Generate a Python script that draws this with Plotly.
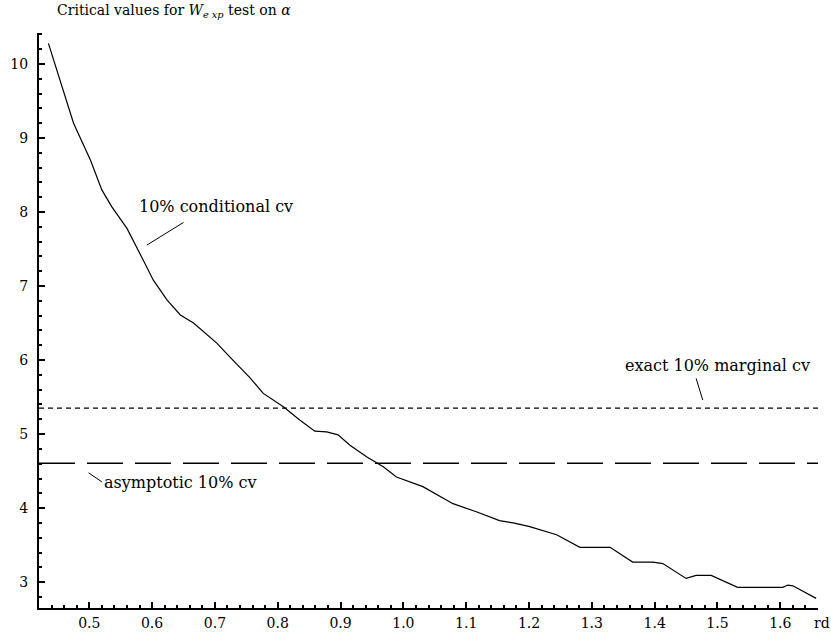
import plotly.graph_objects as go

# Conditional 10% critical value of the W_exp test as a function of rd
rd = [0.435, 0.454, 0.475, 0.502, 0.520, 0.536, 0.560, 0.586, 0.602, 0.624,
      0.645, 0.666, 0.682, 0.703, 0.724, 0.756, 0.777, 0.793, 0.809, 0.835,
      0.859, 0.878, 0.896, 0.915, 0.942, 0.968, 0.989, 1.031, 1.079, 1.116,
      1.153, 1.175, 1.201, 1.244, 1.281, 1.329, 1.365, 1.397, 1.413, 1.450,
      1.466, 1.490, 1.532, 1.604, 1.612, 1.620, 1.657]
cond_cv = [10.28, 9.78, 9.20, 8.70, 8.30, 8.07, 7.78, 7.35, 7.08, 6.81,
           6.61, 6.50, 6.38, 6.23, 6.04, 5.76, 5.55, 5.46, 5.37, 5.19,
           5.04, 5.03, 4.99, 4.85, 4.69, 4.56, 4.42, 4.29, 4.06, 3.95,
           3.83, 3.80, 3.75, 3.64, 3.47, 3.47, 3.27, 3.27, 3.25, 3.05,
           3.09, 3.09, 2.93, 2.93, 2.96, 2.95, 2.78]

# Horizontal reference levels
exact_marginal_cv = 5.35
asymptotic_cv = 4.605

x_range = [0.42, 1.66]
y_range = [2.65, 10.42]

x_ticks = [0.5, 0.6, 0.7, 0.8, 0.9, 1.0, 1.1, 1.2, 1.3, 1.4, 1.5, 1.6]
y_ticks = [3, 4, 5, 6, 7, 8, 9, 10]

FONT = "DejaVu Serif"

fig = go.Figure()

fig.add_trace(go.Scatter(
    x=x_range, y=[exact_marginal_cv, exact_marginal_cv], mode="lines",
    line=dict(color="black", width=1.3, dash="5px,4px"), hoverinfo="skip"))
fig.add_trace(go.Scatter(
    x=x_range, y=[asymptotic_cv, asymptotic_cv], mode="lines",
    line=dict(color="black", width=1.5, dash="36px,12px"), hoverinfo="skip"))
fig.add_trace(go.Scatter(
    x=rd, y=cond_cv, mode="lines",
    line=dict(color="black", width=1.2), hoverinfo="skip"))

# Leader lines from labels to the curves
leaders = [
    (0.5917, 7.554, 0.650, 7.86),
    (1.466, 5.753, 1.4766, 5.46),
    (0.4989, 4.477, 0.520, 4.355),
]
for x0, y0, x1, y1 in leaders:
    fig.add_shape(type="line", x0=x0, y0=y0, x1=x1, y1=y1, xref="x", yref="y",
                  line=dict(color="black", width=1))

labels = [
    ("10% conditional cv", 0.576, 8.07),
    ("exact 10% marginal cv", 1.350, 5.93),
    ("asymptotic 10% cv", 0.520, 4.34),
]
for text, x, y in labels:
    fig.add_annotation(text=text, x=x, y=y, xref="x", yref="y",
                       xanchor="left", yanchor="middle", showarrow=False,
                       font=dict(family=FONT, size=16, color="black"))

fig.add_annotation(
    text="Critical values for <i>W</i><sub><i>e xp</i></sub> test on <i>α</i>",
    x=0.02, y=1.038, xref="paper", yref="paper", xanchor="left",
    yanchor="middle", showarrow=False,
    font=dict(family=FONT, size=14, color="black"))

fig.add_annotation(text="rd", x=1, y=0, xref="paper", yref="paper",
                   xanchor="center", yanchor="top", xshift=4, yshift=-5,
                   showarrow=False, font=dict(family=FONT, size=14, color="black"))

axis_common = dict(
    showgrid=False, zeroline=False, showline=True, linecolor="black",
    linewidth=2, ticks="inside", ticklen=6, tickwidth=1.5, tickcolor="black",
    tickfont=dict(family=FONT, size=14, color="black"), automargin=False,
)

fig.update_xaxes(range=x_range, tickvals=x_ticks, tickformat=".1f",
                 ticklabelstandoff=1,
                 minor=dict(ticks="inside", ticklen=3, tickwidth=1.5,
                            tickcolor="black", dtick=0.02, tick0=0.5),
                 **axis_common)
fig.update_yaxes(range=y_range, tickvals=y_ticks, ticklabelstandoff=6,
                 minor=dict(ticks="inside", ticklen=3, tickwidth=1.5,
                            tickcolor="black", dtick=0.2, tick0=3),
                 **axis_common)

fig.update_layout(
    width=831, height=633,
    margin=dict(l=39, r=13, t=33, b=25),
    paper_bgcolor="white", plot_bgcolor="white",
    showlegend=False,
)

fig.write_html("out.html")
